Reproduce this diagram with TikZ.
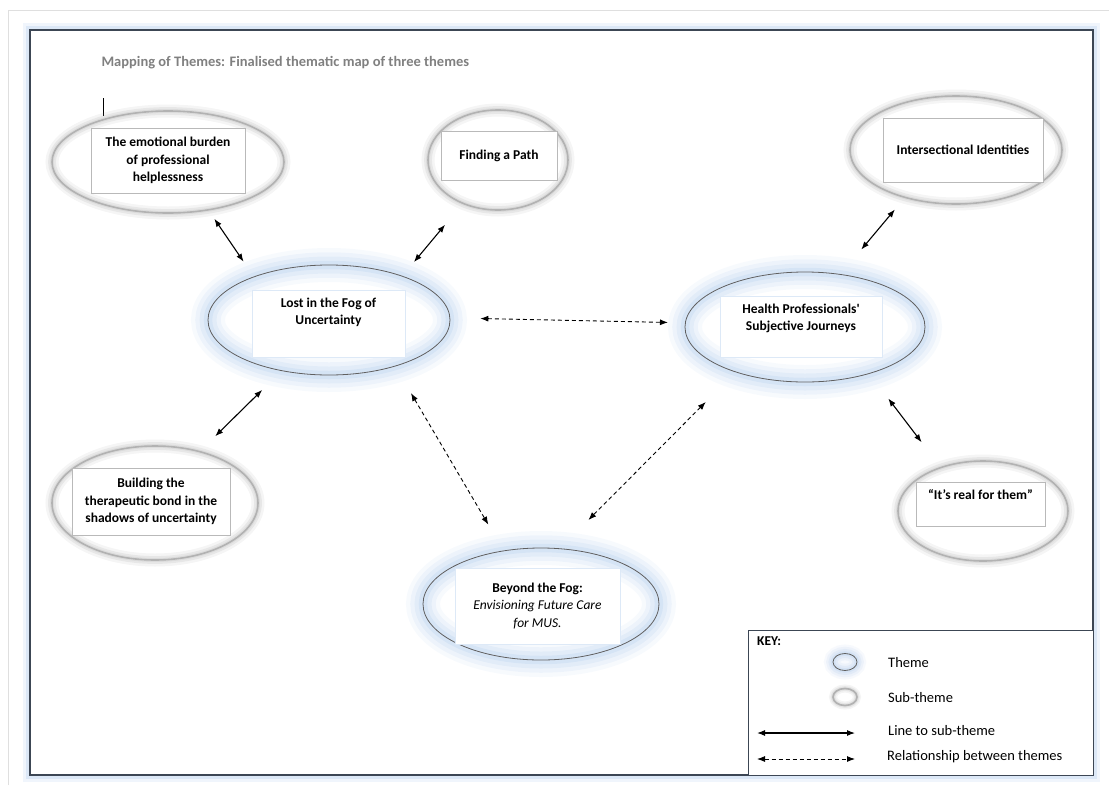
\documentclass[tikz,border=0pt]{standalone}
\usepackage{fontspec}
\setmainfont{Carlito}
\usepackage{tikz}
\usetikzlibrary{positioning, shapes.geometric, arrows.meta}
\definecolor{glowblue}{HTML}{9DBFE8}
\definecolor{glowgray}{HTML}{8C8C8C}
\definecolor{rimgray}{HTML}{B2B2B2}
\definecolor{framecol}{HTML}{3C4654}
\definecolor{titlegray}{HTML}{808080}
\tikzset{
	every node/.append style={
		font={\fontsize{13.5}{17.5}\selectfont\bfseries},
	},
	themeglow/.style={
		preaction={draw=glowblue, line width=#1, opacity=0.08},
		preaction={draw=glowblue, line width=0.75*#1, opacity=0.11},
		preaction={draw=glowblue, line width=0.5*#1, opacity=0.14},
		preaction={draw=glowblue, line width=0.25*#1, opacity=0.18},
	},
	subglow/.style={
		preaction={draw=glowgray, line width=#1, opacity=0.09},
		preaction={draw=glowgray, line width=0.6*#1, opacity=0.13},
		preaction={draw=glowgray, line width=0.3*#1, opacity=0.13},
	},
	theme/.style={
		ellipse,
		draw=gray!75!black,
		line width=0.8pt,
		inner sep=0pt,
		themeglow=#1,
	},
	theme/.default=34,
	subtheme/.style={
		ellipse,
		draw=rimgray,
		line width=1.6pt,
		inner sep=0pt,
		subglow=#1,
	},
	subtheme/.default=13,
	textbox/.append style={
		rectangle,
		draw=gray!55,
		fill=white,
		line width=0.6pt,
		align=center,
		inner sep=2pt,
	},
	themebox/.append style={
		textbox,
		draw=glowblue!35,
	},
	keylabel/.append style={
		font={\fontsize{14.5}{16}\selectfont},
		anchor=west,
		inner sep=0pt,
	},
	link/.append style={
		{Latex[length=8pt,width=6pt]}-{Latex[length=8pt,width=6pt]},
		line width=1.1pt,
	},
	relation/.append style={
		link,
		line width=0.9pt,
		dash pattern=on 4pt off 3pt,
	},
}

\begin{document}
\begin{tikzpicture}[x=1pt, y=-1pt]
		\useasboundingbox (0,0) rectangle (1109,785);
		% page and frame
		\draw[gray!25] (8,785) -- (8,10) -- (1109,10);
		\draw[glowblue, line width=8pt, opacity=0.15] (27,27) rectangle (1096,778);
		\draw[glowblue, line width=4pt, opacity=0.25] (28,28) rectangle (1095,777);
		\draw[framecol, line width=1.1pt] (30,30) rectangle (1093,775);
		\node(title)[anchor=west, text=titlegray, font={\fontsize{14.5}{16}\selectfont\bfseries}] at (98,63) {Mapping of Themes: Finalised thematic map of three themes};
		\draw[line width=0.8pt] (103,98) -- (103,116);
		
		% themes
		\node(lost)[theme, minimum width=242, minimum height=110] at (329,320) {};
		\node(health)[theme, minimum width=240, minimum height=110] at (805,327) {};
		\node(beyond)[theme, minimum width=236, minimum height=112] at (541,604) {};
		
		% sub-themes
		\node(emo)[subtheme, minimum width=232, minimum height=102] at (168,162) {};
		\node(path)[subtheme, minimum width=140, minimum height=100] at (498,160) {};
		\node(build)[subtheme, minimum width=206, minimum height=114] at (155,503) {};
		\node(inter)[subtheme, minimum width=212, minimum height=108] at (956,150) {};
		\node(real)[subtheme, minimum width=170, minimum height=100] at (983,511) {};
		
		\node(lostbox)[themebox, minimum width=153, minimum height=67, text depth=24pt] at (328.5,323.5) {Lost in the Fog of\\Uncertainty};
		\node(healthbox)[themebox, minimum width=162, minimum height=61, text depth=18pt] at (801,326.5) {Health Professionals\textquotesingle\\Subjective Journeys};
		\node(beyondbox)[themebox, minimum width=165, minimum height=76] at (537.5,606) {Beyond the Fog:\\{\mdseries\itshape Envisioning Future Care}\\{\mdseries\itshape for MUS.}};
		
		\node(emobox)[textbox, minimum width=154, minimum height=65] at (168,160.5) {The emotional burden\\of professional\\helplessness};
		\node(pathbox)[textbox, minimum width=116, minimum height=49] at (499,155.5) {Finding a Path};
		\node(buildbox)[textbox, minimum width=158, minimum height=67] at (151,501.5) {Building the\\therapeutic bond in the\\shadows of uncertainty};
		\node(interbox)[textbox, minimum width=160, minimum height=64] at (963,150) {Intersectional Identities};
		\node(realbox)[textbox, minimum width=129, minimum height=44, text depth=18pt] at (980.5,504) {“It’s real for them”};
		
		\draw[link, shorten <=10, shorten >=18] (emo.-50) -- (lost.150);
		\draw[link, shorten <=27, shorten >=18] (path.-129) -- (lost.31);
		\draw[link, shorten <=27, shorten >=21] (lost.-133) -- (build.49);
		\draw[link, shorten <=32, shorten >=15] (health.56) -- (inter.-137);
		\draw[link, shorten <=31, shorten >=31] (health.-36) -- (real.134);
		
		\draw[relation, shorten <=30, shorten >=17] (lost.1) -- (health.178);
		\draw[relation, shorten <=31, shorten >=30] (lost.-35) -- (beyond.125);
		\draw[relation, shorten <=42, shorten >=40] (health.-147) -- (beyond.71);
		
		% key
		\node(key)[rectangle, draw=framecol, fill=white, line width=0.9pt, minimum width=345, minimum height=145, anchor=north west] at (748,630) {};
		\node(keytitle)[anchor=north west, inner sep=0pt] at (757,637) {KEY:};
		\node(keytheme)[theme=18, minimum width=24, minimum height=17] at (845,662) {};
		\node(keysub)[subtheme=8, minimum width=24, minimum height=17] at (845,697) {};
		\node(themelbl)[keylabel] at (888,663) {Theme};
		\node(sublbl)[keylabel] at (888,698) {Sub-theme};
		\node(linelbl)[keylabel] at (888,731) {Line to sub-theme};
		\node(rellbl)[keylabel] at (887,757) {Relationship between themes};
		\coordinate(linea) at (757,733);
		\coordinate(lineb) at (855,733);
		\coordinate(rela) at (757,759);
		\coordinate(relb) at (855,759);
		\draw[link] (linea) -- (lineb);
		\draw[relation] (rela) -- (relb);
\end{tikzpicture}
\end{document}
